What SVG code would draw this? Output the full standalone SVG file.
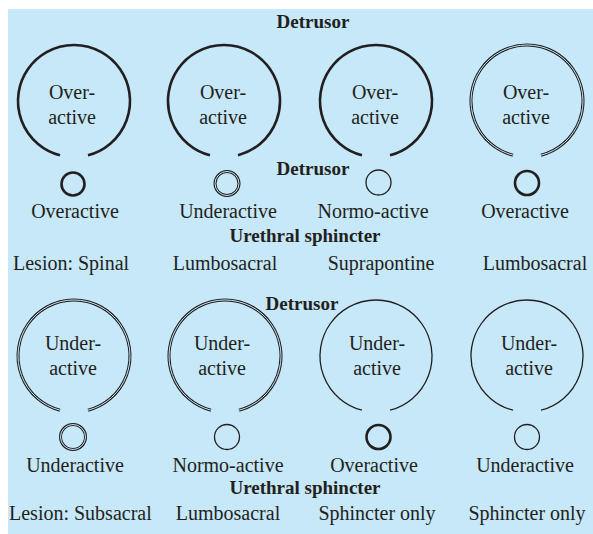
<svg xmlns="http://www.w3.org/2000/svg" width="593" height="534" viewBox="0 0 593 534">
<defs>
<style>
text{font-family:"Liberation Serif","Times New Roman",serif;fill:#231f20;}
.t{font-size:20px;text-anchor:middle;}
.l{font-size:20px;}
.b{font-size:19px;font-weight:bold;text-anchor:middle;}
.thick{fill:none;stroke:#231f20;stroke-width:2.6;}
.thin{fill:none;stroke:#231f20;stroke-width:1.3;}
.dbl{fill:none;stroke:#231f20;stroke-width:3;}
.dblin{fill:none;stroke:#c6e8f8;stroke-width:1;}
</style>
<path id="arc" d="M -14 54.2 A 56 56 0 1 1 14 54.2"/>
</defs>
<rect x="8" y="9" width="585" height="525" fill="#c6e8f8"/>
<g id="labels-top">
<text class="b" x="313" y="28">Detrusor</text>
<text class="b" x="313" y="175">Detrusor</text>
<text class="b" x="305" y="242">Urethral sphincter</text>
</g>
<g id="node-a1">
<use href="#arc" x="74" y="101" class="thick"/>
<text class="t" x="72" y="99">Over-</text>
<text class="t" x="72" y="124">active</text>
<circle cx="73" cy="184" r="11.5" class="thick"/>
<text class="t" x="75" y="218">Overactive</text>
<text class="l" x="13" y="270">Lesion: Spinal</text>
</g>
<g id="node-a2">
<use href="#arc" x="224" y="101" class="thick"/>
<text class="t" x="223" y="99">Over-</text>
<text class="t" x="223" y="124">active</text>
<circle cx="227" cy="183.5" r="12" class="dbl"/>
<circle cx="227" cy="183.5" r="12" class="dblin"/>
<text class="t" x="228" y="218">Underactive</text>
<text class="t" x="225" y="270">Lumbosacral</text>
</g>
<g id="node-a3">
<use href="#arc" x="376" y="101" class="thick"/>
<text class="t" x="375" y="99">Over-</text>
<text class="t" x="375" y="124">active</text>
<circle cx="378.5" cy="182.5" r="12.5" class="thin"/>
<text class="t" x="373" y="218">Normo-active</text>
<text class="t" x="381" y="270">Suprapontine</text>
</g>
<g id="node-a4">
<use href="#arc" x="527" y="101" class="dbl"/>
<use href="#arc" x="527" y="101" class="dblin"/>
<text class="t" x="526" y="99">Over-</text>
<text class="t" x="526" y="124">active</text>
<circle cx="527" cy="183" r="12" class="thick"/>
<text class="t" x="525" y="218">Overactive</text>
<text class="t" x="535" y="270">Lumbosacral</text>
</g>
<g id="labels-bottom">
<text class="b" x="302" y="310">Detrusor</text>
<text class="b" x="305" y="494">Urethral sphincter</text>
</g>
<g id="node-b1">
<use href="#arc" x="74" y="356" class="dbl"/>
<use href="#arc" x="74" y="356" class="dblin"/>
<text class="t" x="73" y="350">Under-</text>
<text class="t" x="73" y="375">active</text>
<circle cx="73" cy="437" r="12.5" class="dbl"/>
<circle cx="73" cy="437" r="12.5" class="dblin"/>
<text class="t" x="75" y="472">Underactive</text>
<text class="l" x="9" y="520">Lesion: Subsacral</text>
</g>
<g id="node-b2">
<use href="#arc" x="225" y="356" class="dbl"/>
<use href="#arc" x="225" y="356" class="dblin"/>
<text class="t" x="222" y="350">Under-</text>
<text class="t" x="222" y="375">active</text>
<circle cx="227" cy="437" r="12.5" class="thin"/>
<text class="t" x="228" y="472">Normo-active</text>
<text class="t" x="228" y="520">Lumbosacral</text>
</g>
<g id="node-b3">
<use href="#arc" x="376" y="356" class="thin"/>
<text class="t" x="377" y="350">Under-</text>
<text class="t" x="377" y="375">active</text>
<circle cx="378.5" cy="437" r="12" class="thick"/>
<text class="t" x="374" y="472">Overactive</text>
<text class="t" x="377" y="520">Sphincter only</text>
</g>
<g id="node-b4">
<use href="#arc" x="527" y="356" class="thin"/>
<text class="t" x="529" y="350">Under-</text>
<text class="t" x="529" y="375">active</text>
<circle cx="527" cy="437" r="12.5" class="thin"/>
<text class="t" x="525" y="472">Underactive</text>
<text class="t" x="527" y="520">Sphincter only</text>
</g>
</svg>
